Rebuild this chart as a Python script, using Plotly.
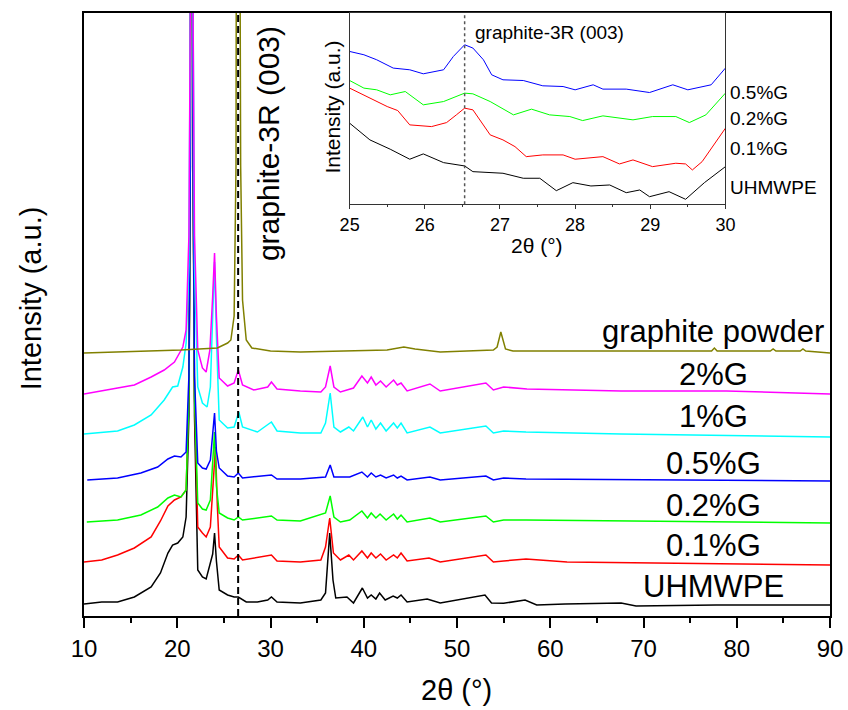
import plotly.graph_objects as go

# ---------------- data (main panel, intensity in arbitrary offset units) ----------------
tt_uhmwpe = [10, 11.9, 13.6, 15.4, 17.2, 18.2, 19.0, 19.5, 20.05, 20.6, 20.95, 21.25, 21.4, 21.55, 21.7, 21.85,
             22.2, 22.7, 23.1, 23.55, 23.8, 24.0, 24.2, 24.5, 25.4, 26.1, 26.55, 27.4, 28.6, 29.7, 30.1, 30.7,
             33.2, 35.4, 35.9, 36.35, 36.7, 37.0, 38.2, 38.9, 39.85, 40.4, 40.8, 41.3, 41.7, 42.3, 43.15, 43.6,
             44.0, 44.65, 46.8, 48.2, 53.0, 53.7, 55.0, 57.3, 58.55, 61.6, 67.6, 69.2, 77.8, 90]
i_uhmwpe = [12, 14, 14, 19, 29, 43, 63, 71, 73, 79, 99, 200, 450, 1400, 450, 200,
            46, 39, 37, 53, 62, 83, 55, 26, 21, 19, 19, 14, 14, 16, 19, 14,
            13, 16, 23, 83, 36, 18, 19, 13, 28, 18, 21, 17, 23, 16, 20, 18,
            21, 14, 17, 13, 21, 13, 12.7, 16, 11, 12, 13, 10, 11, 11]

tt_g01 = [10, 11.9, 13.6, 15.4, 17.2, 18.2, 19.0, 19.7, 20.4, 20.95, 21.25, 21.4, 21.55, 21.7, 21.85, 22.2,
          22.7, 23.1, 23.55, 23.85, 24.1, 24.3, 24.5, 25.4, 26.1, 26.55, 27.0, 30.1, 30.7, 33.2, 35.4, 35.9,
          36.35, 36.75, 37.5, 38.4, 38.9, 39.8, 40.4, 40.8, 41.3, 41.8, 42.4, 43.2, 43.6, 44.0, 44.65, 47.0,
          48.2, 53.1, 53.9, 55.0, 57.4, 61.8, 90]
i_g01 = [54, 56, 61, 68, 79, 95, 110, 116, 119, 126, 220, 450, 1400, 450, 220, 89,
         83, 79, 89, 130, 169, 110, 69, 58, 57, 61, 56, 61, 55, 54, 56, 69,
         98, 63, 56, 61, 56, 65, 58, 63, 58, 62, 56, 61, 58, 63, 55, 58,
         54, 61, 54, 55, 57, 54, 51]

tt_g02 = [10.3, 13.6, 16.1, 17.9, 19.0, 19.7, 20.4, 20.95, 21.25, 21.4, 21.55, 21.7, 21.85, 22.2, 22.7, 23.1,
          23.55, 23.8, 24.0, 24.2, 24.5, 25.4, 26.1, 26.55, 27.0, 30.1, 30.7, 33.2, 35.9, 36.4, 36.8, 37.5,
          38.5, 39.8, 40.4, 40.8, 41.3, 41.75, 42.4, 43.2, 43.6, 44.0, 44.65, 47.1, 48.2, 53.1, 53.9, 55.0,
          57.4, 90]
i_g02 = [94, 96, 101, 109, 118, 121, 119, 126, 220, 450, 1400, 450, 220, 113, 107, 106,
         116, 150, 184, 130, 103, 98, 96, 99, 96, 100, 96, 95, 103, 120, 99, 94,
         96, 105, 98, 103, 98, 102, 96, 102, 97, 101, 94, 98, 94, 100, 94, 96,
         96, 93]

tt_g05 = [10.35, 13.6, 16.1, 17.9, 19.0, 19.7, 20.4, 20.95, 21.25, 21.4, 21.55, 21.7, 21.85, 22.2, 22.7, 23.1,
          23.55, 23.8, 24.0, 24.2, 24.5, 25.4, 26.1, 26.55, 27.0, 30.1, 30.7, 33.2, 35.9, 36.4, 36.8, 38.5,
          39.8, 40.4, 40.8, 41.3, 41.8, 42.4, 43.2, 43.6, 44.0, 44.65, 47.1, 48.2, 53.1, 53.9, 55.0, 57.4, 90]
i_g05 = [136, 138, 143, 149, 157, 160, 159, 164, 240, 450, 1400, 450, 240, 153, 148, 147,
         156, 180, 203, 165, 148, 140, 139, 143, 138, 141, 137, 137, 139, 151, 139, 139,
         144, 139, 143, 139, 141, 138, 141, 138, 140, 136, 139, 136, 140, 136, 138, 137, 135]

tt_g1 = [10, 13.6, 15.4, 17.2, 18.6, 19.5, 20.05, 20.6, 20.95, 21.25, 21.4, 21.55, 21.7, 21.85, 22.2, 22.7,
         23.2, 23.55, 23.8, 24.0, 24.2, 24.5, 25.4, 26.1, 26.6, 27.0, 28.6, 30.1, 30.7, 33.2, 35.4, 35.9,
         36.4, 36.8, 37.5, 38.4, 38.9, 39.9, 40.4, 40.8, 41.3, 41.8, 42.4, 43.2, 43.6, 44.0, 44.65, 47.1,
         48.2, 53.1, 53.9, 55.0, 57.4, 61.8, 67.6, 90]
i_g1 = [182, 185, 191, 201, 216, 229, 230, 249, 273, 350, 600, 1400, 600, 350, 229, 213,
        209, 229, 300, 354, 280, 196, 188, 189, 204, 189, 184, 194, 185, 183, 183, 193,
        223, 189, 184, 189, 185, 199, 189, 196, 187, 193, 185, 193, 188, 193, 183, 189,
        183, 190, 183, 185, 184, 183, 182, 179]

tt_g2 = [10, 15.4, 17.2, 18.6, 19.7, 20.6, 20.95, 21.25, 21.4, 21.55, 21.7, 21.85, 22.2, 22.7, 23.1, 23.5,
         23.8, 24.0, 24.2, 24.5, 25.4, 26.1, 26.55, 27.0, 28.2, 29.7, 30.1, 30.7, 33.2, 35.4, 35.9, 36.4,
         36.8, 37.5, 38.9, 39.8, 40.4, 40.8, 41.3, 41.8, 42.4, 43.2, 43.6, 44.0, 44.65, 47.1, 48.2, 53.1,
         53.9, 55.0, 57.5, 61.8, 67.6, 78.9, 90]
i_g2 = [222, 231, 239, 246, 254, 269, 286, 380, 600, 1400, 600, 380, 266, 248, 244, 266,
        320, 363, 300, 238, 230, 233, 246, 231, 226, 229, 234, 227, 225, 224, 229, 250,
        229, 224, 228, 240, 233, 239, 231, 235, 229, 236, 231, 233, 225, 232, 225, 233,
        226, 229, 227, 226, 225, 225, 222]

tt_graphite = [10, 20.4, 24.3, 25.4, 25.75, 26.1, 26.3, 26.45, 26.55, 26.65, 26.8, 27.0, 27.4, 28, 30, 33.2,
               42.5, 44.3, 45.5, 48.2, 53.9, 54.3, 54.7, 55.2, 56, 77.3, 77.6, 77.9, 83.6, 83.9, 84.2, 86.8,
               87.1, 87.4, 90]
i_graphite = [263, 266, 268, 273, 276, 300, 450, 900, 2000, 900, 450, 316, 276, 268, 265, 264,
              266, 269, 267, 264, 266, 269, 284, 267, 265, 265, 268, 265, 265, 267, 265, 265,
              267, 265, 263]

main_names = ["UHMWPE", "0.1%G", "0.2%G", "0.5%G", "1%G", "2%G", "graphite powder"]
main_colors = ["#000000", "#FF0000", "#00FF00", "#0000FF", "#00FFFF", "#FF00FF", "#808000"]
main_x = [tt_uhmwpe, tt_g01, tt_g02, tt_g05, tt_g1, tt_g2, tt_graphite]
main_y = [i_uhmwpe, i_g01, i_g02, i_g05, i_g1, i_g2, i_graphite]

# ---------------- data (inset, 25-30 deg) ----------------
in_tt_g05 = [25.0, 25.19, 25.36, 25.58, 25.80, 25.98, 26.25, 26.38, 26.53, 26.64, 26.78, 26.89, 27.04, 27.31,
             27.57, 27.84, 28.0, 28.24, 28.37, 28.68, 28.99, 29.30, 29.50, 29.81, 30.0]
in_i_g05 = [152.6, 149.3, 144.3, 136, 134.3, 130.3, 134.3, 147.6, 159.3, 156, 144.3, 129.3, 124.3, 123.6,
            118.3, 117.6, 114.3, 119.3, 115, 115, 111.6, 119.3, 114.3, 119.3, 136]
in_tt_g02 = [25.0, 25.19, 25.36, 25.54, 25.74, 25.98, 26.25, 26.53, 26.64, 26.87, 27.18, 27.42, 27.66, 27.93,
             28.1, 28.37, 28.77, 29.03, 29.34, 29.52, 29.74, 30.0]
in_i_g02 = [123.6, 116, 114.3, 109.3, 112.6, 99.3, 102.6, 111, 110.3, 102.6, 89.3, 95, 89.3, 87.6,
            83.6, 88.3, 84.3, 87.6, 87.6, 81.6, 89.3, 111]
in_tt_g01 = [25.0, 25.14, 25.36, 25.5, 25.64, 25.80, 26.09, 26.29, 26.42, 26.53, 26.64, 26.73, 26.87, 27.04,
             27.2, 27.35, 27.57, 27.84, 28.0, 28.37, 28.59, 28.77, 29.03, 29.34, 29.47, 29.56, 29.69, 30.0]
in_i_g01 = [116, 111, 102.6, 97.6, 93.6, 79.3, 77.6, 81.6, 89.3, 96, 94.3, 84.3, 69.3, 64.3,
            57.6, 47.6, 49.3, 49.3, 45, 47.6, 40.3, 44.3, 37.6, 41, 40.3, 34.3, 42.6, 76]
in_tt_uhmwpe = [25.0, 25.19, 25.27, 25.54, 25.80, 25.98, 26.25, 26.53, 26.64, 27.04, 27.31, 27.53, 27.75,
                27.97, 28.21, 28.46, 28.68, 28.86, 28.99, 29.25, 29.47, 29.72, 30.0]
in_i_uhmwpe = [81, 69.3, 64.3, 55, 45, 50.3, 41.6, 38.3, 32.6, 31, 26, 26, 13.6,
               21.6, 18.3, 19.3, 11.6, 14.3, 7.6, 12.6, 5, 21.6, 37.6]

inset_names = ["0.5%G", "0.2%G", "0.1%G", "UHMWPE"]
inset_colors = ["#0000FF", "#00FF00", "#FF0000", "#000000"]
inset_x = [in_tt_g05, in_tt_g02, in_tt_g01, in_tt_uhmwpe]
inset_y = [in_i_g05, in_i_g02, in_i_g01, in_i_uhmwpe]

ref_peak = 26.53          # graphite-3R (003)
main_xrange = [10, 90]
main_yrange = [0, 603]
inset_xrange = [25, 30]
inset_yrange = [0, 191]

# ---------------- layout geometry (pixels) ----------------
W, H = 848, 710
L, R, T, B = 84, 5, 13, 94
PW, PH = W - L - R, H - T - B
SX = 0.986   # observed horizontal compression of the rendered page


def px(x):
    return (x / SX - L) / PW


def py(y):
    return (H - B - y) / PH


FONT = "Arial, Liberation Sans, sans-serif"

fig = go.Figure()

for xs, ys, c, n in zip(main_x, main_y, main_colors, main_names):
    fig.add_trace(go.Scatter(x=xs, y=ys, mode="lines", line=dict(color=c, width=1.5),
                             name=n, showlegend=False, xaxis="x", yaxis="y"))

for xs, ys, c, n in zip(inset_x, inset_y, inset_colors, inset_names):
    fig.add_trace(go.Scatter(x=xs, y=ys, mode="lines", line=dict(color=c, width=1),
                             name=n, showlegend=False, xaxis="x2", yaxis="y2"))

fig.add_shape(type="line", xref="x", yref="y domain", x0=ref_peak, x1=ref_peak, y0=0, y1=1,
              line=dict(color="black", width=2, dash="7px,4px"), layer="above")
fig.add_shape(type="line", xref="x2", yref="y2 domain", x0=ref_peak, x1=ref_peak, y0=0, y1=1,
              line=dict(color="#555555", width=1.5, dash="dot"), layer="above")

annotations = []
main_label_y = [586.7, 545, 505, 463.3, 416.7, 375, 331.7]
for n, yy in zip(main_names, main_label_y):
    annotations.append(dict(text=n, x=px(714), y=py(yy), xref="paper", yref="paper",
                            xanchor="center", yanchor="middle", showarrow=False,
                            font=dict(family=FONT, size=31, color="black")))
inset_label_y = [92.5, 119, 149, 187.5]
for n, yy in zip(inset_names, inset_label_y):
    annotations.append(dict(text=n, x=px(728.5), y=py(yy), xref="paper", yref="paper",
                            xanchor="left", yanchor="middle", showarrow=False,
                            font=dict(family=FONT, size=19, color="black")))
annotations += [
    dict(text="Intensity (a.u.)", x=px(30), y=py(298), xref="paper", yref="paper", textangle=-90,
         xanchor="center", yanchor="middle", showarrow=False, font=dict(family=FONT, size=29, color="black")),
    dict(text="2θ (°)", x=px(457), y=py(690), xref="paper", yref="paper",
         xanchor="center", yanchor="middle", showarrow=False, font=dict(family=FONT, size=29, color="black")),
    dict(text="graphite-3R (003)", x=px(267.5), y=py(144), xref="paper", yref="paper", textangle=-90,
         xanchor="center", yanchor="middle", showarrow=False, font=dict(family=FONT, size=30, color="black")),
    dict(text="graphite-3R (003)", x=px(550.3), y=py(32.5), xref="paper", yref="paper",
         xanchor="center", yanchor="middle", showarrow=False, font=dict(family=FONT, size=19, color="black")),
    dict(text="Intensity (a.u.)", x=px(331.7), y=py(107.5), xref="paper", yref="paper", textangle=-90,
         xanchor="center", yanchor="middle", showarrow=False, font=dict(family=FONT, size=21, color="black")),
    dict(text="2θ (°)", x=px(537.5), y=py(245), xref="paper", yref="paper",
         xanchor="center", yanchor="middle", showarrow=False, font=dict(family=FONT, size=21, color="black")),
]

fig.update_layout(
    width=W, height=H, autosize=False,
    margin=dict(l=L, r=R, t=T, b=B, pad=0),
    paper_bgcolor="white", plot_bgcolor="white",
    showlegend=False,
    font=dict(family=FONT, color="black"),
    annotations=annotations,
    xaxis=dict(domain=[0, 1], range=main_xrange, showline=True, linecolor="black", linewidth=2, mirror=True,
               showgrid=False, zeroline=False, ticks="outside", ticklen=10, tickwidth=2, tickcolor="black",
               dtick=10, tick0=10, tickfont=dict(family=FONT, size=24, color="black"),
               minor=dict(dtick=5, tick0=10, ticks="outside", ticklen=5, tickwidth=2, tickcolor="black"),
               anchor="y"),
    yaxis=dict(domain=[0, 1], range=main_yrange, showline=True, linecolor="black", linewidth=2, mirror=True,
               showgrid=False, zeroline=False, ticks="", showticklabels=False, anchor="x"),
    xaxis2=dict(domain=[px(349.3), px(726.3)], range=inset_xrange, anchor="y2", showline=True,
                linecolor="#333333", linewidth=1, mirror=True, showgrid=False, zeroline=False,
                ticks="outside", ticklen=4, tickwidth=1, tickcolor="#333333", dtick=1, tick0=25,
                tickfont=dict(family=FONT, size=18, color="black"),
                minor=dict(dtick=0.5, tick0=25, ticks="outside", ticklen=2, tickwidth=1, tickcolor="#333333")),
    yaxis2=dict(domain=[py(204.3), 1], range=inset_yrange, anchor="x2", showline=True,
                linecolor="#333333", linewidth=1, mirror=True, showgrid=False, zeroline=False,
                ticks="", showticklabels=False),
)

fig.write_html("out.html", config={"responsive": False})
